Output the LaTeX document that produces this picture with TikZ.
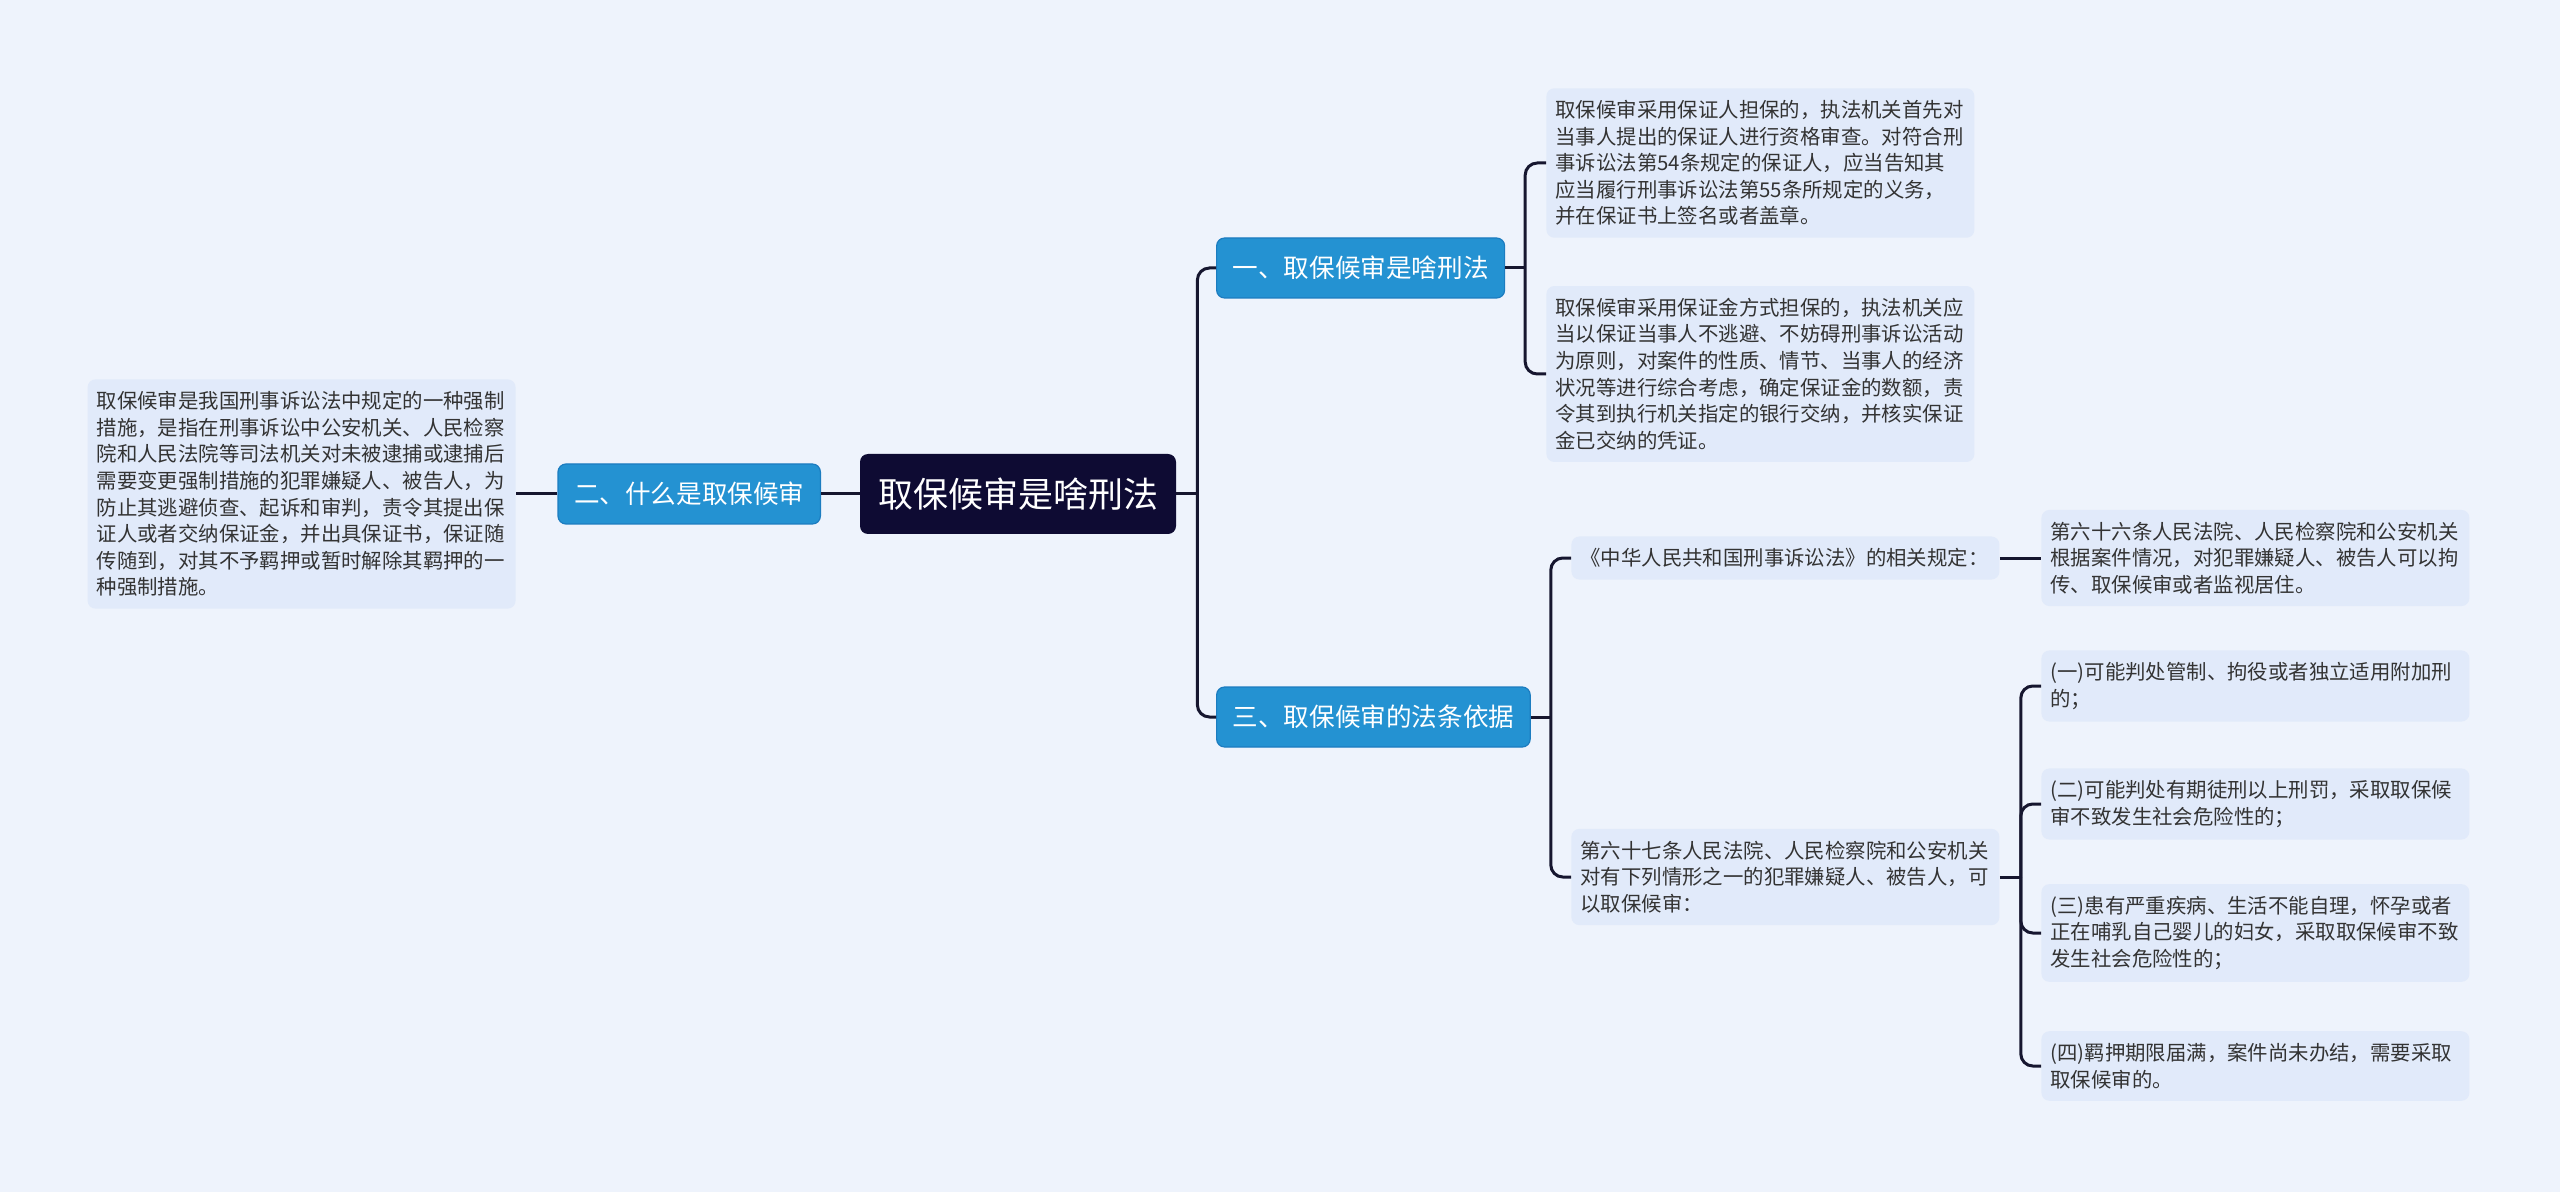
\documentclass[tikz,border=0pt]{standalone}
\usepackage{fontspec}
\setmainfont{Noto Sans CJK SC}
\definecolor{bgcol}{HTML}{EEF3FC}
\definecolor{leafcol}{HTML}{E1EAFA}
\definecolor{brcol}{HTML}{2492D2}
\definecolor{brline}{HTML}{1C7CC0}
\definecolor{rootcol}{HTML}{0E0B33}
\definecolor{linecol}{HTML}{16162F}
\definecolor{txtcol}{HTML}{333333}
\begin{document}
\begin{tikzpicture}[x=.5pt,y=-.5pt,
  link/.style={draw=linecol,line width=1.5pt,rounded corners=6pt},
  rootbox/.style={fill=rootcol,rounded corners=4pt,text=white,minimum height=40pt,inner xsep=9pt,font=\fontsize{17.5}{20}\selectfont},
  branch/.style={fill=brcol,draw=brline,line width=.6pt,rounded corners=4pt,text=white,minimum height=30pt,inner xsep=8pt,font=\fontsize{12.8}{15}\selectfont},
  leaf/.style={fill=leafcol,rounded corners=4pt,text=txtcol,align=left,text width=205pt,inner xsep=4.5pt,inner ysep=6pt,font=\fontsize{10.2}{13.3}\selectfont}]
  \fill[bgcol] (0,0) rectangle (2560,1192);
  \useasboundingbox (0,0) rectangle (2560,1192);
  \node[rootbox] (root) at (1018,494) {取保候审是啥刑法};
  \node[branch,anchor=east] (b2) at (821,494) {二、什么是取保候审};
  \node[leaf,anchor=east] (l2) at (516,494) {取保候审是我国刑事诉讼法中规定的一种强制\\
措施，是指在刑事诉讼中公安机关、人民检察\\
院和人民法院等司法机关对未被逮捕或逮捕后\\
需要变更强制措施的犯罪嫌疑人、被告人，为\\
防止其逃避侦查、起诉和审判，责令其提出保\\
证人或者交纳保证金，并出具保证书，保证随\\
传随到，对其不予羁押或暂时解除其羁押的一\\
种强制措施。};
  \node[branch,anchor=west] (b1) at (1216,268) {一、取保候审是啥刑法};
  \node[branch,anchor=west] (b3) at (1216,717) {三、取保候审的法条依据};
  \node[leaf,anchor=west] (a1) at (1546,163) {取保候审采用保证人担保的，执法机关首先对\\
当事人提出的保证人进行资格审查。对符合刑\\
事诉讼法第54条规定的保证人，应当告知其\\
应当履行刑事诉讼法第55条所规定的义务，\\
并在保证书上签名或者盖章。};
  \node[leaf,anchor=west] (a2) at (1546,374) {取保候审采用保证金方式担保的，执法机关应\\
当以保证当事人不逃避、不妨碍刑事诉讼活动\\
为原则，对案件的性质、情节、当事人的经济\\
状况等进行综合考虑，确定保证金的数额，责\\
令其到执行机关指定的银行交纳，并核实保证\\
金已交纳的凭证。};
  \node[leaf,anchor=west] (c1) at (1571,558) {《中华人民共和国刑事诉讼法》的相关规定：};
  \node[leaf,anchor=west] (c2) at (1571,877) {第六十七条人民法院、人民检察院和公安机关\\
对有下列情形之一的犯罪嫌疑人、被告人，可\\
以取保候审：};
  \node[leaf,anchor=west] (d1) at (2041,558) {第六十六条人民法院、人民检察院和公安机关\\
根据案件情况，对犯罪嫌疑人、被告人可以拘\\
传、取保候审或者监视居住。};
  \node[leaf,anchor=west] (e1) at (2041,686) {(一)可能判处管制、拘役或者独立适用附加刑\\
的；};
  \node[leaf,anchor=west] (e2) at (2041,804) {(二)可能判处有期徒刑以上刑罚，采取取保候\\
审不致发生社会危险性的；};
  \node[leaf,anchor=west] (e3) at (2041,933) {(三)患有严重疾病、生活不能自理，怀孕或者\\
正在哺乳自己婴儿的妇女，采取取保候审不致\\
发生社会危险性的；};
  \node[leaf,anchor=west] (e4) at (2041,1066) {(四)羁押期限届满，案件尚未办结，需要采取\\
取保候审的。};
  \draw[link] (root.west) -- (b2.east);
  \draw[link] (b2.west) -- (l2.east);
  \draw[link] (root.east) -- ++(21,0) coordinate (jr);
  \draw[link] (jr) |- (b1.west) (jr) |- (b3.west);
  \draw[link] (b1.east) -- ++(20,0) coordinate (j1);
  \draw[link] (j1) |- (a1.west) (j1) |- (a2.west);
  \draw[link] (b3.east) -- ++(20,0) coordinate (j3);
  \draw[link] (j3) |- (c1.west) (j3) |- (c2.west);
  \draw[link] (c1.east) -- (d1.west);
  \draw[link] (c2.east) -- ++(21,0) coordinate (j4);
  \foreach \n in {e1,e2,e3,e4} \draw[link] (j4) |- (\n.west);
\end{tikzpicture}
\end{document}
